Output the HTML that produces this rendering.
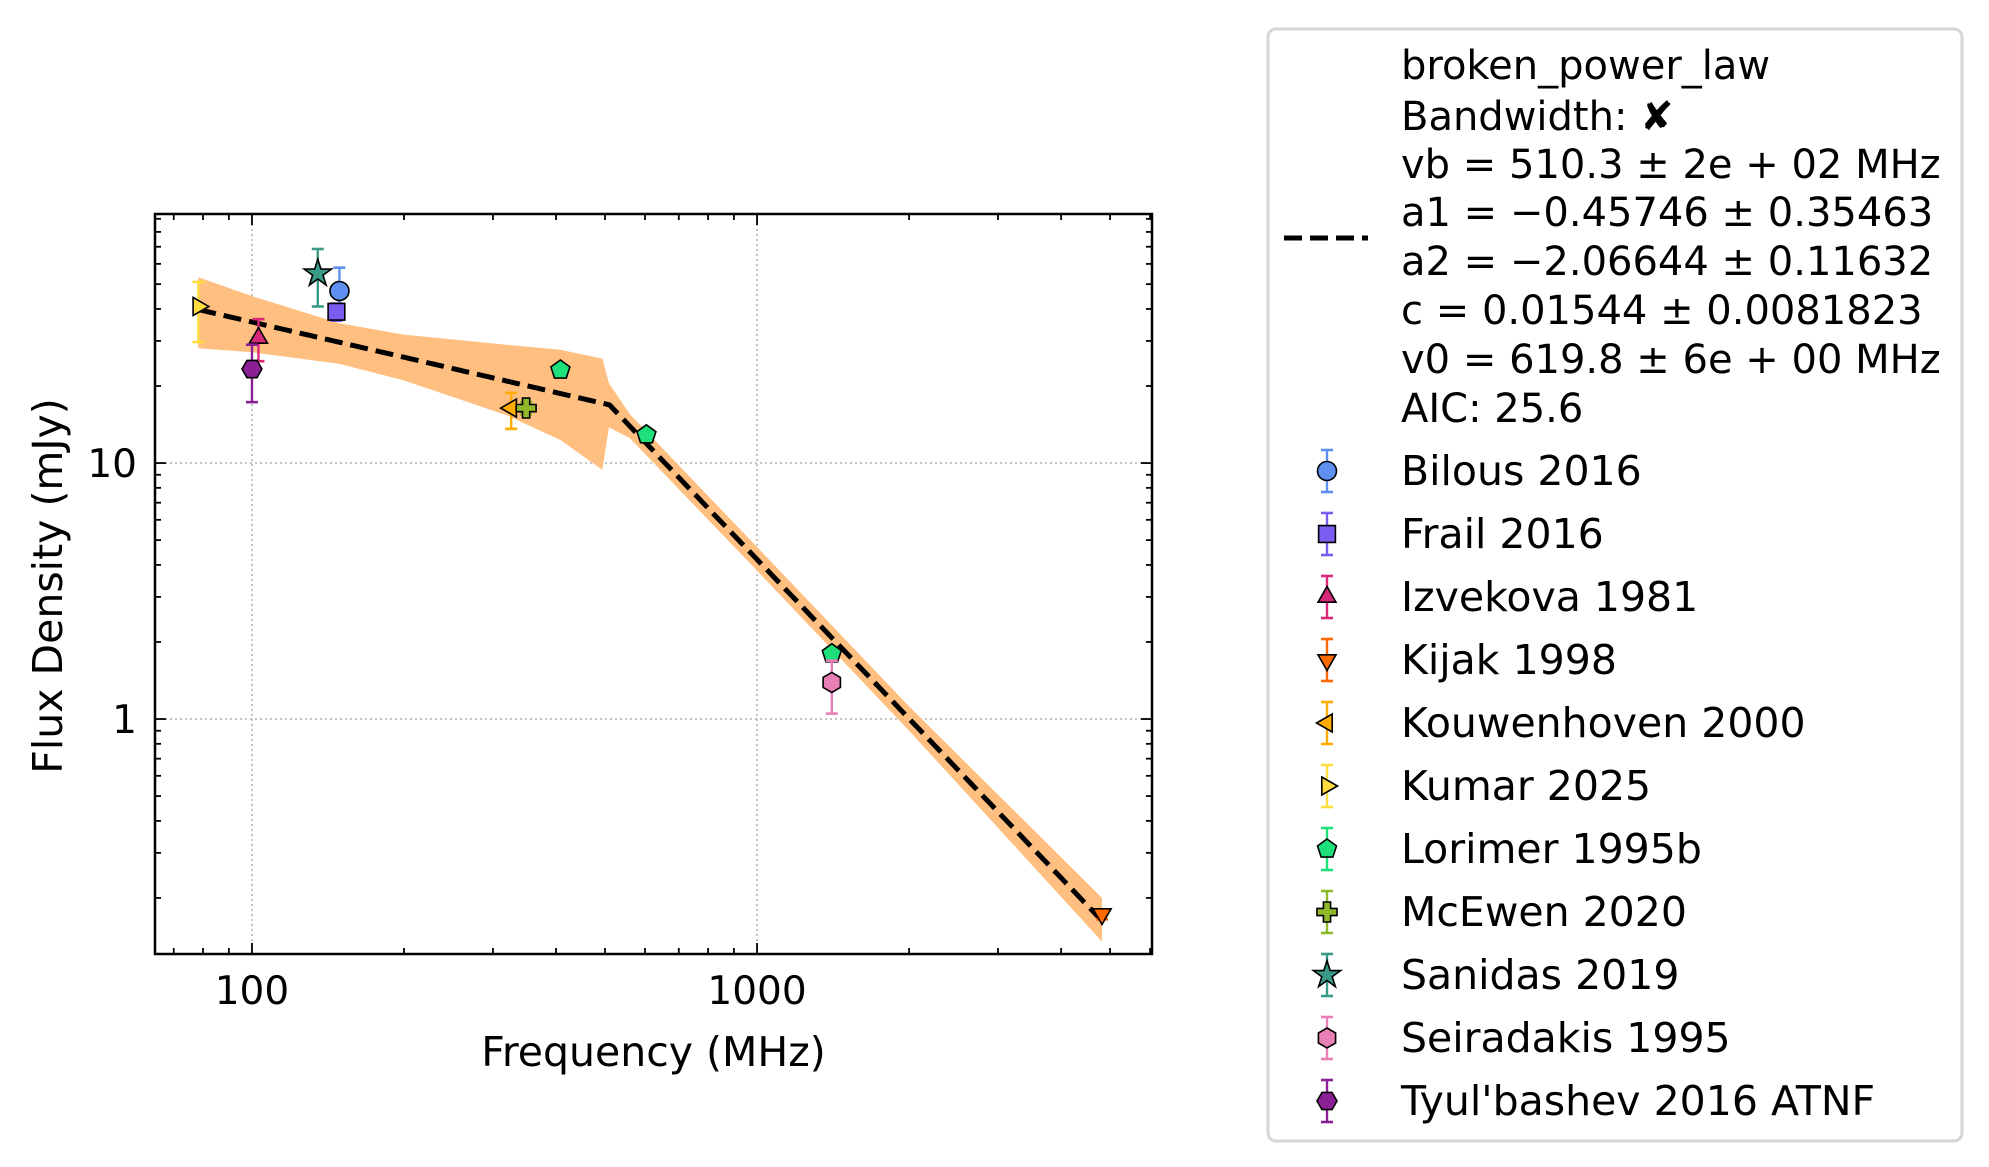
<!DOCTYPE html>
<html><head><meta charset="utf-8"><style>
html,body{margin:0;padding:0;background:#fff;}
svg{display:block;font-family:"DejaVu Sans","Liberation Sans",sans-serif;}
</style></head><body>
<svg id="chart" width="1989" height="1167" viewBox="0 0 1989 1167" xmlns="http://www.w3.org/2000/svg">
<g id="grid"></g>
<g id="band"></g>
<g id="fit"></g>
<g id="points"></g>
<g id="axes"></g>
<g id="legend"></g>
</svg>
<script>
// ---- data ----
const seriesNames = ["Bilous 2016","Frail 2016","Izvekova 1981","Kijak 1998","Kouwenhoven 2000","Kumar 2025","Lorimer 1995b","McEwen 2020","Sanidas 2019","Seiradakis 1995","Tyul'bashev 2016 ATNF"];
const seriesColors = ["#5f8ff0","#7a5cf0","#d8287a","#ff6a00","#ffad00","#ffdd40","#1ee07a","#8fb82a","#3a9a88","#e87fb5","#8a1f96"];
const seriesMarkers = ["o","s","^","v","<",">","p","P","*","h","H"];
const pointSeries = [0,1,2,3,4,5,6,6,6,7,8,9,10];
const pointFreq   = [149,147,103,4820,326,78.3,408,604,1406,349,135,1406,100];
const pointFlux   = [47,39,30.8,0.173,16.4,40.9,23.1,12.9,1.8,16.4,55,1.39,23.3];
const pointErrLo  = [37,36,25,0.165,13.6,29.7,23.1,12.9,1.7,15.5,40.9,1.05,17.3];
const pointErrHi  = [58,42,36.5,0.18,18.8,51,23.1,12.9,1.9,17.3,68.6,1.69,29];
const bandFreq = [78.3,100,149,199,319,408,494,509,560,1000,2000,4820];
const bandHi   = [53.2,44.9,35.2,31.8,29.0,27.7,25.6,20.5,15.5,4.7,1.12,0.2];
const bandLo   = [28.1,27.1,24.4,21.1,15.4,12.3,9.4,13.8,12.5,3.8,0.9,0.135];
const fitParams = {vb:510.3, a1:-0.45746, a2:-2.06644, c:15.44, v0:619.8};
const fitRange = [78.3,4820];
const xTicks = [100,1000];
const xTickLabels = ["100","1000"];
const yTicks = [1,10];
const yTickLabels = ["1","10"];
const fitLabelLines = ["broken_power_law","Bandwidth: ✘","vb = 510.3 ± 2e + 02 MHz","a1 = −0.45746 ± 0.35463","a2 = −2.06644 ± 0.11632","c = 0.01544 ± 0.0081823","v0 = 619.8 ± 6e + 00 MHz","AIC: 25.6"];

// ---- layout ----
const L=155,R=1152,T=214,B=954;
const xMin=1.808,xMax=3.782;
const yMin=-0.918,yMax=1.973;
const X=v=>L+(Math.log10(v)-xMin)/(xMax-xMin)*(R-L);
const Y=v=>B-(Math.log10(v)-yMin)/(yMax-yMin)*(B-T);
const NS="http://www.w3.org/2000/svg";
function mk(tag,attrs,parent){const e=document.createElementNS(NS,tag);for(const k in attrs)e.setAttribute(k,attrs[k]);parent.appendChild(e);return e;}

function markerPath(type,cx,cy,s){
  const r=s/2;let pts=[];
  const poly=(n,rot,rad)=>{const p=[];for(let i=0;i<n;i++){const a=rot+i*2*Math.PI/n;p.push([cx+rad*Math.cos(a),cy+rad*Math.sin(a)]);}return p;};
  switch(type){
    case "s": pts=[[cx-r*0.88,cy-r*0.88],[cx+r*0.88,cy-r*0.88],[cx+r*0.88,cy+r*0.88],[cx-r*0.88,cy+r*0.88]];break;
    case "^": pts=poly(3,-Math.PI/2,r*1.1);break;
    case "v": pts=poly(3,Math.PI/2,r*1.1);break;
    case "<": pts=poly(3,Math.PI,r*1.1);break;
    case ">": pts=poly(3,0,r*1.1);break;
    case "p": pts=poly(5,-Math.PI/2,r*1.05);break;
    case "h": pts=poly(6,-Math.PI/2,r*1.05);break;
    case "H": pts=poly(6,0,r*1.05);break;
    case "*": {for(let i=0;i<10;i++){const a=-Math.PI/2+i*Math.PI/5;const rr=i%2?r*0.5:r*1.3;pts.push([cx+rr*Math.cos(a),cy+rr*Math.sin(a)]);}break;}
    case "P": {const a=r*1.05,b=r*0.38;pts=[[-b,-a],[b,-a],[b,-b],[a,-b],[a,b],[b,b],[b,a],[-b,a],[-b,b],[-a,b],[-a,-b],[-b,-b]].map(p=>[cx+p[0],cy+p[1]]);break;}
    default: return null;
  }
  return "M"+pts.map(p=>p[0].toFixed(1)+","+p[1].toFixed(1)).join("L")+"Z";
}
function drawMarker(parent,type,cx,cy,color,s){
  const d=markerPath(type,cx,cy,s);
  if(d===null) return mk("ellipse",{cx:cx,cy:cy,rx:s/2,ry:s/2,fill:color,stroke:"#000","stroke-width":1.6},parent);
  return mk("path",{d:d,fill:color,stroke:"#000","stroke-width":1.6,"stroke-linejoin":"miter"},parent);
}
function drawErr(parent,cx,y1,y2,color){
  const g=mk("g",{},parent);
  mk("line",{x1:cx,x2:cx,y1:y1,y2:y2,stroke:color,"stroke-width":2.4},g);
  mk("line",{x1:cx-6,x2:cx+6,y1:y1,y2:y1,stroke:color,"stroke-width":2.6},g);
  mk("line",{x1:cx-6,x2:cx+6,y1:y2,y2:y2,stroke:color,"stroke-width":2.6},g);
  return g;
}

// grid
const grid=document.getElementById("grid");
xTicks.forEach(v=>{const l=mk("line",{x1:X(v),x2:X(v),y1:T,y2:B,stroke:"#b0b0b0","stroke-width":1.5,"stroke-dasharray":"2,3"},grid);

});
yTicks.forEach(v=>{const l=mk("line",{x1:L,x2:R,y1:Y(v),y2:Y(v),stroke:"#b0b0b0","stroke-width":1.5,"stroke-dasharray":"2,3"},grid);

});

// band
const band=document.getElementById("band");
let bd="M"+bandFreq.map((f,i)=>X(f).toFixed(1)+","+Y(bandHi[i]).toFixed(1)).join("L");
for(let i=bandFreq.length-1;i>=0;i--) bd+="L"+X(bandFreq[i]).toFixed(1)+","+Y(bandLo[i]).toFixed(1);
const bp=mk("path",{d:bd+"Z",fill:"#ffbf80",stroke:"none"},band);



// fit line
function model(v){const p=fitParams;
  if(v<=p.vb) return p.c*Math.pow(v/p.v0,p.a1);
  return p.c*Math.pow(p.vb/p.v0,p.a1-p.a2)*Math.pow(v/p.v0,p.a2);}
const fitG=document.getElementById("fit");
let fd="";const N=200;
for(let i=0;i<=N;i++){const lv=Math.log10(fitRange[0])+i/N*(Math.log10(fitRange[1])-Math.log10(fitRange[0]));const v=Math.pow(10,lv);
 fd+=(i?"L":"M")+X(v).toFixed(1)+","+Y(model(v)).toFixed(1);}
const fl=mk("path",{d:fd,fill:"none",stroke:"#000","stroke-width":5,"stroke-dasharray":"18,8"},fitG);



// points
const ptsG=document.getElementById("points");
pointFreq.forEach((f,i)=>{const s=pointSeries[i];const cx=X(f);
  const g=mk("g",{},ptsG);
  
  
  drawErr(g,cx,Y(pointErrHi[i]),Y(pointErrLo[i]),seriesColors[s]);
  drawMarker(g,seriesMarkers[s],cx,Y(pointFlux[i]),seriesColors[s],seriesMarkers[s]==="*"?22:19);
});

// axes
const ax=document.getElementById("axes");
const frame=mk("rect",{x:L,y:T,width:R-L,height:B-T,fill:"none",stroke:"#000","stroke-width":2.5},ax);


for(let d=1;d<=4;d++){for(let m=1;m<10;m++){const v=m*Math.pow(10,d);const lv=Math.log10(v);if(lv<xMin||lv>xMax)continue;
  const len=m===1?11:6;const x=X(v);
  mk("line",{x1:x,x2:x,y1:B,y2:B-len,stroke:"#000","stroke-width":1.8},ax);
  mk("line",{x1:x,x2:x,y1:T,y2:T+len,stroke:"#000","stroke-width":1.8},ax);}}
for(let d=-1;d<=2;d++){for(let m=1;m<10;m++){const v=m*Math.pow(10,d);const lv=Math.log10(v);if(lv<yMin||lv>yMax)continue;
  const len=m===1?11:6;const y=Y(v);
  mk("line",{x1:L,x2:L+len,y1:y,y2:y,stroke:"#000","stroke-width":1.8},ax);
  mk("line",{x1:R,x2:R-len,y1:y,y2:y,stroke:"#000","stroke-width":1.8},ax);}}
xTicks.forEach((v,i)=>{const t=mk("text",{x:X(v),y:1004,"font-size":39,"text-anchor":"middle",fill:"#000"},ax);t.textContent=xTickLabels[i];

});
yTicks.forEach((v,i)=>{const t=mk("text",{x:L-18,y:Y(v)+14,"font-size":39,"text-anchor":"end",fill:"#000"},ax);t.textContent=yTickLabels[i];

});
const xl=mk("text",{x:(L+R)/2,y:1066,"font-size":41,"text-anchor":"middle",fill:"#000"},ax);xl.textContent="Frequency (MHz)";


const yl=mk("text",{x:0,y:0,"font-size":41,"text-anchor":"middle",fill:"#000",transform:"translate(62,586) rotate(-90)"},ax);yl.textContent="Flux Density (mJy)";



// legend
const lg=document.getElementById("legend");
const box=mk("rect",{x:1276,y:29,width:694,height:1112,rx:8,fill:"#fff",stroke:"#d6d6d6","stroke-width":3},lg);


const fitLineY=[65,116,164,212,261,310,359,408];
fitLabelLines.forEach((s,i)=>{const t=mk("text",{x:1409,y:fitLineY[i]+14,"font-size":40,fill:"#000"},lg);t.textContent=s;

});
const ll=mk("line",{x1:1292,x2:1376,y1:238,y2:238,stroke:"#000","stroke-width":5,"stroke-dasharray":"18,8"},lg);


seriesNames.forEach((n,i)=>{const y=471+i*63;const g=mk("g",{},lg);
  
  
  drawErr(g,1335,y-21,y+21,seriesColors[i]);
  drawMarker(g,seriesMarkers[i],1335,y,seriesColors[i],seriesMarkers[i]==="*"?22:19);
  const t=mk("text",{x:1409,y:y+14,"font-size":41,fill:"#000"},g);t.textContent=n;});
// shift whole legend slightly left to match reference
lg.setAttribute("transform","translate(-8,0)");
</script>
</body></html>
